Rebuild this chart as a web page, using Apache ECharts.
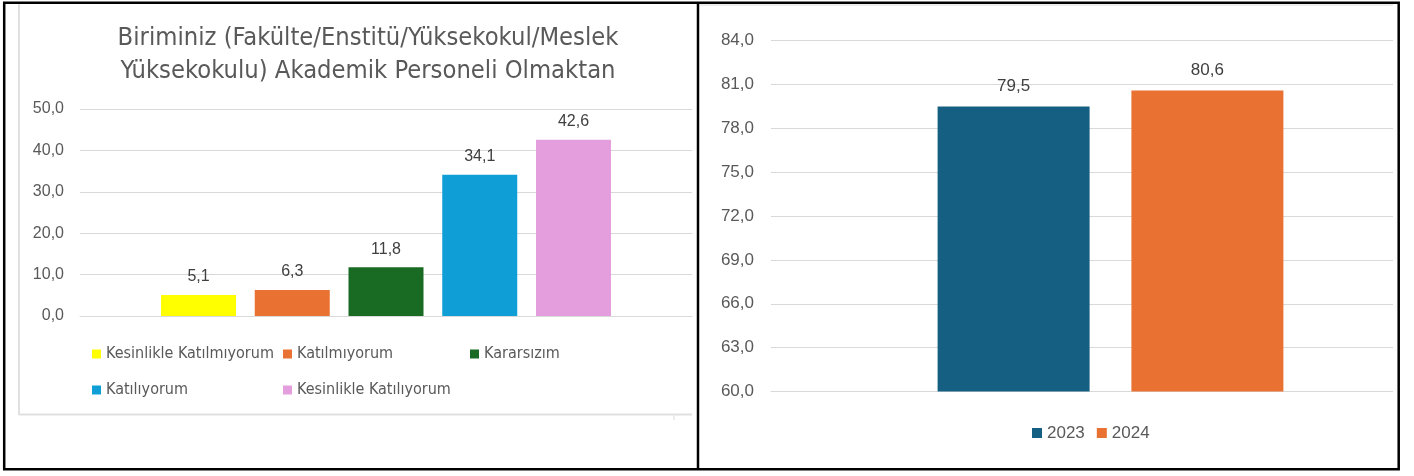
<!DOCTYPE html>
<html>
<head>
<meta charset="utf-8">
<script src="https://cdn.jsdelivr.net/npm/echarts@6/dist/echarts.min.js"></script>
<style>
html,body{margin:0;padding:0;background:#fff;}
#c{width:1414px;height:476px;}
</style>
</head>
<body>
<div id="c"></div>
<script>
// ---- data ----
var leftTitle = 'Biriminiz (Fakülte/Enstitü/Yüksekokul/Meslek\nYüksekokulu) Akademik Personeli Olmaktan';
var leftCategories = ['Kesinlikle Katılmıyorum', 'Katılmıyorum', 'Kararsızım', 'Katılıyorum', 'Kesinlikle Katılıyorum'];
var leftValues = [5.1, 6.3, 11.8, 34.1, 42.6];
var leftColors = ['#FFFF00', '#E97132', '#196B24', '#0F9ED5', '#E49EDD'];
var leftAxis = {min: 0, max: 50, interval: 10};

var rightSeriesNames = ['2023', '2024'];
var rightValues = [79.5, 80.6];
var rightColors = ['#156082', '#E97132'];
var rightAxis = {min: 60, max: 84, interval: 3};

// ---- helpers ----
function fmt(v) { return Number(v).toFixed(1).replace('.', ','); }
var GRID_COLOR = '#d9d9d9';
var TEXT_GRAY = '#595959';
var LABEL_DARK = '#404040';
var SANS = '"Liberation Sans", Arial, sans-serif';
var COND = '"DejaVu Sans Condensed", "DejaVu Sans", sans-serif';

var series = [];
leftCategories.forEach(function (name, i) {
  series.push({
    name: name, type: 'bar', xAxisIndex: 0, yAxisIndex: 0,
    data: [leftValues[i]], barWidth: 75, barGap: '25%',
    itemStyle: {color: leftColors[i]},
    label: {show: true, position: 'top', distance: 10, formatter: function (p) { return fmt(p.value); },
      color: LABEL_DARK, fontSize: 16, fontFamily: SANS},
    animation: false
  });
});
rightSeriesNames.forEach(function (name, i) {
  series.push({
    name: name, type: 'bar', xAxisIndex: 1, yAxisIndex: 1,
    data: [rightValues[i]], barWidth: 152, barGap: '27.5%',
    itemStyle: {color: rightColors[i]},
    label: {show: true, position: 'top', distance: 12, formatter: function (p) { return fmt(p.value); },
      color: LABEL_DARK, fontSize: 17, fontFamily: SANS},
    animation: false
  });
});

var legendPos = [
  {left: 92, top: 344},
  {left: 283, top: 344},
  {left: 470, top: 344},
  {left: 92, top: 380},
  {left: 283, top: 380}
];
var legends = leftCategories.map(function (name, i) {
  return {
    data: [name], left: legendPos[i].left, top: legendPos[i].top,
    orient: 'horizontal', icon: 'rect', itemWidth: 9, itemHeight: 9, itemGap: 0,
    selectedMode: false, padding: 0,
    textStyle: {color: TEXT_GRAY, fontSize: 16, fontFamily: COND, lineHeight: 20}
  };
});
legends.push({
  data: rightSeriesNames, left: 1032, top: 423, icon: 'rect', itemWidth: 10, itemHeight: 10,
  itemGap: 12, selectedMode: false, padding: 0,
  textStyle: {color: TEXT_GRAY, fontSize: 17, fontFamily: SANS, lineHeight: 20}
});

var option = {
  animation: false,
  backgroundColor: '#fff',
  title: {
    text: leftTitle, left: 363, top: 17, textAlign: 'center',
    textStyle: {color: TEXT_GRAY, fontSize: 25.3, fontWeight: 'normal', fontFamily: COND, lineHeight: 33}
  },
  legend: legends,
  grid: [
    {left: 80, right: 722, top: 109, bottom: 160, outerBoundsMode: 'none'},
    {left: 771, width: 679, top: 40.7, bottom: 84.5, outerBoundsMode: 'none', containLabel: false}
  ],
  xAxis: [
    {type: 'category', gridIndex: 0, data: [''], axisLine: {show: true, lineStyle: {color: GRID_COLOR}},
      axisTick: {show: false}, axisLabel: {show: false}},
    {type: 'category', gridIndex: 1, data: [''], axisLine: {show: true, lineStyle: {color: GRID_COLOR}},
      axisTick: {show: false}, axisLabel: {show: false}}
  ],
  yAxis: [
    {type: 'value', gridIndex: 0, min: leftAxis.min, max: leftAxis.max, interval: leftAxis.interval,
      axisLine: {show: false}, axisTick: {show: false},
      splitLine: {lineStyle: {color: GRID_COLOR, width: 1}},
      axisLabel: {formatter: fmt, color: TEXT_GRAY, fontSize: 16, fontFamily: SANS, margin: 16}},
    {type: 'value', gridIndex: 1, min: rightAxis.min, max: rightAxis.max, interval: rightAxis.interval,
      axisLine: {show: false}, axisTick: {show: false},
      splitLine: {lineStyle: {color: GRID_COLOR, width: 1}},
      axisLabel: {formatter: fmt, color: TEXT_GRAY, fontSize: 17, fontFamily: SANS, margin: 17}}
  ],
  series: series,
  graphic: [
    // white mask beyond the visible right plot edge
    {type: 'rect', z: 100, shape: {x: 1393, y: 0, width: 30, height: 476}, style: {fill: '#fff'}},
    // left chart frame
    {type: 'line', z: 101, shape: {x1: 19, y1: 3, x2: 19, y2: 415}, style: {stroke: '#e0e0e0', lineWidth: 2}},
    {type: 'line', z: 101, shape: {x1: 19, y1: 414.5, x2: 692, y2: 414.5}, style: {stroke: '#e0e0e0', lineWidth: 2}},
    {type: 'line', z: 101, shape: {x1: 674, y1: 414, x2: 674, y2: 420}, style: {stroke: '#e6e6e6', lineWidth: 1.5}},
    // right chart frame top
    {type: 'line', z: 101, shape: {x1: 700, y1: 5, x2: 1393, y2: 5}, style: {stroke: '#e6e6e6', lineWidth: 1.5}},
    // black outer borders
    {type: 'rect', z: 110, shape: {x: 4.2, y: 2.8, width: 1394.5, height: 466.5}, style: {fill: 'none', stroke: '#000', lineWidth: 2.5}},
    {type: 'line', z: 110, shape: {x1: 698, y1: 2.8, x2: 698, y2: 469.3}, style: {stroke: '#000', lineWidth: 2.5}}
  ]
};

var chart = echarts.init(document.getElementById('c'), null, {renderer: 'canvas'});
chart.setOption(option);
</script>
</body>
</html>
